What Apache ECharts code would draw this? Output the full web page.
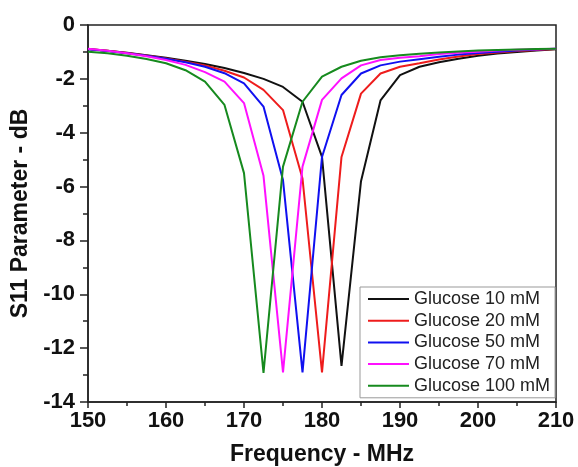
<!DOCTYPE html>
<html>
<head>
<meta charset="utf-8">
<script src="https://cdn.jsdelivr.net/npm/echarts@6/dist/echarts.min.js"></script>
<style>html,body{margin:0;padding:0;background:#fff;}#c{width:578px;height:467px;}</style>
</head>
<body>
<div id="c"></div>
<script>
var freq = [150,152.5,155,157.5,160,162.5,165,167.5,170,172.5,175,177.5,180,182.5,185,187.5,190,192.5,195,197.5,200,202.5,205,207.5,210];
var g10  = [-0.89,-0.96,-1.03,-1.12,-1.22,-1.33,-1.45,-1.6,-1.78,-2.0,-2.3,-2.85,-4.9,-12.66,-5.8,-2.8,-1.86,-1.55,-1.38,-1.25,-1.14,-1.06,-1.0,-0.95,-0.9];
var g20  = [-0.89,-0.96,-1.04,-1.13,-1.24,-1.36,-1.5,-1.7,-1.95,-2.41,-3.16,-5.7,-12.9,-4.9,-2.55,-1.8,-1.55,-1.42,-1.28,-1.17,-1.08,-1.02,-0.97,-0.93,-0.89];
var g50  = [-0.9,-0.97,-1.05,-1.14,-1.25,-1.38,-1.55,-1.79,-2.17,-3.03,-5.76,-12.9,-4.9,-2.6,-1.8,-1.5,-1.36,-1.27,-1.18,-1.1,-1.04,-0.99,-0.95,-0.91,-0.88];
var g70  = [-0.88,-0.96,-1.05,-1.16,-1.3,-1.48,-1.75,-2.1,-2.9,-5.6,-12.9,-5.26,-2.78,-1.98,-1.5,-1.3,-1.22,-1.16,-1.08,-1.03,-0.99,-0.95,-0.92,-0.9,-0.88];
var g100 = [-0.99,-1.05,-1.14,-1.26,-1.42,-1.68,-2.1,-2.97,-5.5,-12.92,-5.26,-2.85,-1.92,-1.55,-1.33,-1.2,-1.12,-1.07,-1.02,-0.98,-0.95,-0.93,-0.91,-0.89,-0.88];
var names = ['Glucose 10 mM','Glucose 20 mM','Glucose 50 mM','Glucose 70 mM','Glucose 100 mM'];
var colors = ['#111111','#ee1c1c','#1010f0','#ff10ff','#168a1e'];
var values = [g10,g20,g50,g70,g100];

function pairs(v){ return freq.map(function(f,i){ return [f, v[i]]; }); }

var chart = echarts.init(document.getElementById('c'), null, {renderer:'canvas'});
var FONT = '"Liberation Sans", Arial, sans-serif';
chart.setOption({
  animation:false,
  backgroundColor:'#fff',
  color: colors,
  grid:{left:88,right:22,top:25,bottom:65,outerBoundsMode:'none',containLabel:false,show:true,borderColor:'#222',borderWidth:1.5,backgroundColor:'transparent'},
  legend:{
    orient:'vertical', left:360, top:287,
    data:names.map(function(n){ return {name:n, icon:'rect'}; }),
    itemWidth:41, itemHeight:2, itemGap:3.7,
    padding:[3,5,3,8],
    borderColor:'#999', borderWidth:1, backgroundColor:'#fff',
    textStyle:{fontFamily:FONT,fontSize:18,color:'#222',lineHeight:18}
  },
  xAxis:{
    type:'value', min:150, max:210, interval:10,
    name:'Frequency - MHz', nameLocation:'middle', nameGap:41,
    nameTextStyle:{fontFamily:FONT,fontSize:23,fontWeight:'bold',color:'#111'},
    axisLine:{show:true,onZero:false,lineStyle:{color:'#222',width:1.5}},
    axisTick:{show:true,inside:false,length:6,lineStyle:{color:'#222',width:1.5}},
    minorTick:{show:true,splitNumber:2,length:4,lineStyle:{color:'#222',width:1.5}},
    axisLabel:{fontFamily:FONT,fontSize:22,fontWeight:'bold',color:'#111',margin:8},
    splitLine:{show:false}
  },
  yAxis:{
    type:'value', min:-14, max:0, interval:2,
    name:'S11 Parameter - dB', nameLocation:'middle', nameGap:49,
    nameTextStyle:{fontFamily:FONT,fontSize:23,fontWeight:'bold',color:'#111'},
    axisLine:{show:true,onZero:false,lineStyle:{color:'#222',width:1.5}},
    axisTick:{show:true,inside:false,length:8,lineStyle:{color:'#222',width:1.5}},
    minorTick:{show:true,splitNumber:2,length:5,lineStyle:{color:'#222',width:1.5}},
    axisLabel:{fontFamily:FONT,fontSize:22,fontWeight:'bold',color:'#111',margin:13},
    splitLine:{show:false}
  },
  series: names.map(function(n,i){
    return {name:n,type:'line',data:pairs(values[i]),symbol:'none',showSymbol:false,
      lineStyle:{width:2,color:colors[i]},itemStyle:{color:colors[i]}};
  })
});
</script>
</body>
</html>
